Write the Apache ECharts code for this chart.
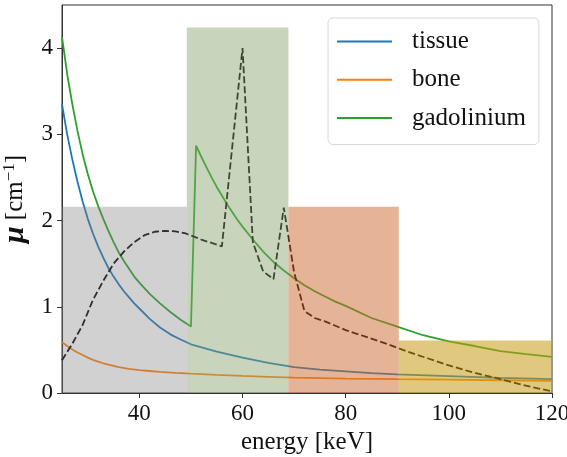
<!DOCTYPE html>
<html>
<head>
<meta charset="utf-8">
<script src="https://cdn.jsdelivr.net/npm/echarts@6/dist/echarts.min.js"></script>
<style>
html,body{margin:0;padding:0;background:#fff;}
#chart{width:567px;height:457px;}
</style>
</head>
<body>
<div id="chart"></div>
<script>
// ---- data ----
const xTicks = [40, 60, 80, 100, 120];
const yTicks = [0, 1, 2, 3, 4];

const tissueE = [25, 26, 27, 28, 29, 30, 31, 32, 33, 34, 35, 36, 37, 38, 39, 40, 42, 44, 46, 48, 50, 55, 60, 65, 70, 75, 80, 85, 90, 100, 110, 120];
const tissueMu = [3.35, 3.00, 2.71, 2.45, 2.22, 2.02, 1.85, 1.70, 1.57, 1.45, 1.35, 1.26, 1.18, 1.11, 1.04, 0.98, 0.86, 0.76, 0.68, 0.62, 0.565, 0.48, 0.41, 0.35, 0.30, 0.27, 0.25, 0.23, 0.215, 0.195, 0.175, 0.16];

const boneE = [25, 26, 27, 28, 29, 30, 31, 32, 33, 34, 35, 36, 38, 40, 42, 44, 47, 50, 55, 60, 65, 70, 80, 90, 100, 110, 120];
const boneMu = [0.59, 0.545, 0.505, 0.47, 0.44, 0.41, 0.385, 0.365, 0.345, 0.33, 0.315, 0.30, 0.28, 0.265, 0.255, 0.245, 0.233, 0.224, 0.21, 0.198, 0.188, 0.178, 0.167, 0.16, 0.155, 0.148, 0.14];

// gadolinium below and above the K-edge
const gadLowE = [25, 26, 27, 28, 29, 30, 31, 32, 33, 34, 35, 36, 37, 38, 39, 40, 42, 44, 46, 48, 50];
const gadLowMu = [4.13, 3.70, 3.35, 3.04, 2.77, 2.54, 2.34, 2.17, 2.02, 1.88, 1.75, 1.63, 1.53, 1.44, 1.35, 1.28, 1.15, 1.04, 0.94, 0.85, 0.77];
const gadHighE = [51, 52, 53, 54, 55, 56, 57, 58, 59, 60, 62, 64, 66, 68, 70, 72, 74, 76, 78, 80, 85, 90, 95, 100, 105, 110, 115, 120];
const gadHighMu = [2.87, 2.74, 2.62, 2.50, 2.39, 2.29, 2.19, 2.10, 2.01, 1.93, 1.78, 1.64, 1.52, 1.42, 1.33, 1.25, 1.18, 1.12, 1.06, 1.01, 0.87, 0.77, 0.67, 0.60, 0.545, 0.485, 0.45, 0.42];

const specE = [25, 27, 29, 31, 33, 35, 37, 39, 41, 43, 45, 47, 49, 52, 54, 56, 60, 62, 64, 66, 68, 70, 72, 74, 76, 78, 80, 84, 88, 92, 96, 100, 104, 108, 112, 116, 120];
const specVal = [0.38, 0.57, 0.79, 1.08, 1.30, 1.50, 1.64, 1.75, 1.83, 1.87, 1.88, 1.875, 1.85, 1.78, 1.74, 1.70, 4.0, 1.75, 1.41, 1.32, 2.15, 1.40, 0.95, 0.87, 0.83, 0.78, 0.73, 0.65, 0.57, 0.48, 0.40, 0.32, 0.25, 0.19, 0.13, 0.07, 0.02];

const binEdges = [25, 49.2, 68.9, 90.3, 120];
const binHeights = [2.16, 4.24, 2.16, 0.61];
const binColors = ['rgba(127,127,127,0.36)', 'rgba(133,162,106,0.45)', 'rgba(203,105,45,0.5)', 'rgba(199,157,20,0.55)'];

// ---- build ----
const zip = (a, b) => a.map((v, i) => [v, b[i]]);
const binData = binHeights.map((h, i) => [binEdges[i], binEdges[i + 1], h]);
const gadData = zip(gadLowE, gadLowMu).concat(zip(gadHighE, gadHighMu));

const FONT = 'Liberation Serif';
const chart = echarts.init(document.getElementById('chart'), null, { renderer: 'canvas' });

const lineCommon = { type: 'line', showSymbol: false, symbol: 'none', z: 2, smooth: false };

const option = {
  animation: false,
  backgroundColor: '#fff',
  textStyle: { fontFamily: FONT },
  grid: { left: 62, right: 15, top: 5, bottom: 64, outerBoundsMode: 'none', containLabel: false,
          show: true, borderColor: '#333', borderWidth: 1, backgroundColor: 'transparent' },
  legend: {
    orient: 'vertical',
    left: 328, top: 18,
    data: ['tissue', 'bone', 'gadolinium'],
    icon: 'rect',
    itemWidth: 55, itemHeight: 2,
    itemGap: 13.3,
    padding: [11, 13, 14, 9],
    backgroundColor: 'rgba(255,255,255,0.8)',
    borderColor: '#d8d8d8', borderWidth: 1, borderRadius: 5,
    textStyle: { fontFamily: FONT, fontSize: 25, color: '#111', lineHeight: 25, padding: [0, 0, 0, 15] }
  },
  xAxis: {
    type: 'value', min: 25, max: 120,
    name: 'energy [keV]', nameLocation: 'middle', nameGap: 34,
    nameTextStyle: { fontFamily: FONT, fontSize: 25, color: '#111' },
    axisLine: { show: true, lineStyle: { color: '#333', width: 1 } },
    axisTick: { show: true, length: 5, inside: false, customValues: xTicks, lineStyle: { color: '#333' } },
    axisLabel: { customValues: xTicks, fontFamily: FONT, fontSize: 23, color: '#111', margin: 9 },
    splitLine: { show: false }
  },
  yAxis: {
    type: 'value', min: 0, max: 4.5,
    name: '{mu|μ} {n|[cm}{sup|−1}{n|]}', nameLocation: 'middle', nameGap: 26, nameRotate: 90,
    nameTextStyle: {
      fontFamily: FONT, fontSize: 25, color: '#111',
      rich: {
        mu: { fontFamily: FONT, fontSize: 30, fontStyle: 'italic', fontWeight: 'bold', color: '#111' },
        n: { fontFamily: FONT, fontSize: 25, color: '#111' },
        sup: { fontFamily: FONT, fontSize: 17, color: '#111', verticalAlign: 'top', padding: [0, 0, 8, 0] }
      }
    },
    axisLine: { show: true, lineStyle: { color: '#333', width: 1 } },
    axisTick: { show: true, length: 5, inside: false, customValues: yTicks, lineStyle: { color: '#333' } },
    axisLabel: { customValues: yTicks, fontFamily: FONT, fontSize: 23, color: '#111', margin: 9 },
    splitLine: { show: false }
  },
  series: [
    Object.assign({}, lineCommon, { name: 'tissue', data: zip(tissueE, tissueMu),
      lineStyle: { color: '#1f77b4', width: 1.8 }, itemStyle: { color: '#1f77b4' } }),
    Object.assign({}, lineCommon, { name: 'bone', data: zip(boneE, boneMu),
      lineStyle: { color: '#ff7f0e', width: 1.8 }, itemStyle: { color: '#ff7f0e' } }),
    Object.assign({}, lineCommon, { name: 'gadolinium', data: gadData,
      lineStyle: { color: '#2ca02c', width: 1.8 }, itemStyle: { color: '#2ca02c' } }),
    Object.assign({}, lineCommon, { name: 'spectrum', data: zip(specE, specVal),
      lineStyle: { color: '#000', width: 1.8, type: [7, 3] }, itemStyle: { color: '#000' } }),
    { name: 'bins', type: 'custom', z: 3, silent: true,
      encode: { x: [0, 1], y: 2 },
      data: binData,
      renderItem: function (params, api) {
        const p0 = api.coord([api.value(0), api.value(2)]);
        const p1 = api.coord([api.value(1), 0]);
        return { type: 'rect', shape: { x: p0[0], y: p0[1], width: p1[0] - p0[0], height: p1[1] - p0[1] },
                 style: { fill: binColors[params.dataIndex] } };
      }
    }
  ]
};
chart.setOption(option);
</script>
</body>
</html>
